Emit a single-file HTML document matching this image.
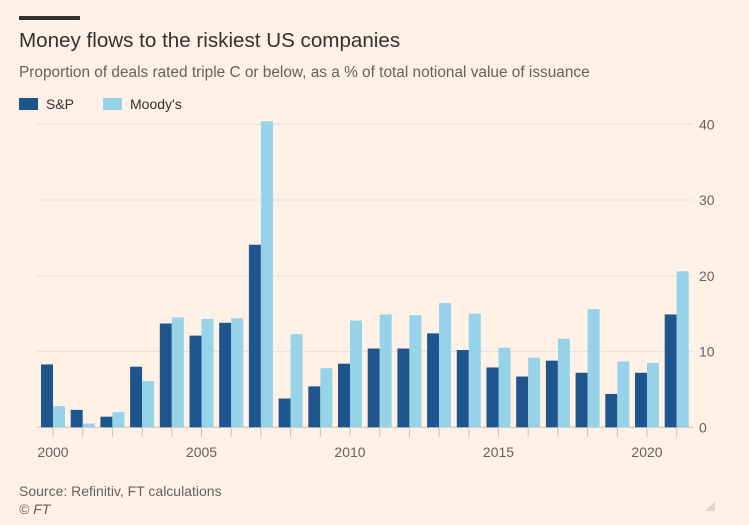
<!DOCTYPE html>
<html><head><meta charset="utf-8"><style>
body{margin:0;background:#fff1e5;font-family:"Liberation Sans",sans-serif;}
#wrap{position:relative;width:749px;height:525px;overflow:hidden;background:#fff1e5;}
.t{position:absolute;white-space:nowrap;}
</style></head><body>
<div id="wrap">
<div class="t" style="left:19px;top:16px;width:61px;height:4px;background:#33302e"></div>
<div class="t" style="left:19px;top:29px;font-size:20.6px;color:#33302e">Money flows to the riskiest US companies</div>
<div class="t" style="left:19px;top:64px;font-size:15.4px;color:#66605c">Proportion of deals rated triple C or below, as a % of total notional value of issuance</div>
<div class="t" style="left:19px;top:96px;font-size:14px;color:#33302e"><span style="display:inline-block;width:19px;height:12px;background:#1e558c;vertical-align:-1px;margin-right:8px"></span>S&amp;P</div>
<div class="t" style="left:103px;top:96px;font-size:14px;color:#33302e"><span style="display:inline-block;width:19px;height:12px;background:#96d3e8;vertical-align:-1px;margin-right:8px"></span>Moody's</div>
<svg id="chart" width="749" height="525" style="position:absolute;left:0;top:0"></svg>
<div class="t" style="left:19px;top:483px;font-size:14px;color:#66605c">Source: Refinitiv, FT calculations</div>
<div class="t" style="left:19px;top:501px;font-size:14px;color:#66605c;font-style:italic">© FT</div>
<svg class="t" style="left:704px;top:500px" width="12" height="12"><polygon points="11,1 11,11 1,11" fill="#e0d6cc"/></svg>
</div>
<script>
const years=[2000,2001,2002,2003,2004,2005,2006,2007,2008,2009,2010,2011,2012,2013,2014,2015,2016,2017,2018,2019,2020,2021];
const spValues=[8.3,2.3,1.4,8.0,13.7,12.1,13.8,24.1,3.8,5.4,8.4,10.4,10.4,12.4,10.2,7.9,6.7,8.8,7.2,4.4,7.2,14.9];
const moodysValues=[2.8,0.5,2.0,6.1,14.5,14.3,14.4,40.4,12.3,7.8,14.1,14.9,14.8,16.4,15.0,10.5,9.2,11.7,15.6,8.7,8.5,20.6];
const yTicks=[0,10,20,30,40];
const xLabels=[2000,2005,2010,2015,2020];
const NS="http://www.w3.org/2000/svg";
const svg=document.getElementById('chart');
const x=yr=>53+(yr-2000)*29.7;
const y=v=>427.3-v*7.575;
function mk(tag,attrs){const e=document.createElementNS(NS,tag);for(const k in attrs)e.setAttribute(k,attrs[k]);svg.appendChild(e);return e;}
yTicks.forEach(t=>{
  const l=mk('line',{x1:37,x2:693,y1:y(t),y2:y(t),stroke:t===0?'#ccc1b7':'#ebe0d6','stroke-width':1});
  
  
  const tx=mk('text',{x:699,y:y(t)+5,'font-size':14,fill:'#66605c','font-family':'Liberation Sans, sans-serif'});
  tx.textContent=t;
  
  
});
years.forEach((yr,i)=>{
  const c=x(yr);
  const a=mk('rect',{x:c-12,y:y(spValues[i]),width:12,height:y(0)-y(spValues[i]),fill:'#1e558c'});
  
  
  const b=mk('rect',{x:c,y:y(moodysValues[i]),width:12,height:y(0)-y(moodysValues[i]),fill:'#96d3e8'});
  
  
  const tk=mk('line',{x1:c,x2:c,y1:427.3,y2:437,stroke:'#ccc1b7','stroke-width':1});
  
  
});
xLabels.forEach(yr=>{
  const tx=mk('text',{x:x(yr),y:457,'font-size':14,fill:'#66605c','text-anchor':'middle','font-family':'Liberation Sans, sans-serif'});
  tx.textContent=yr;
  
  
});
</script>
</body></html>
